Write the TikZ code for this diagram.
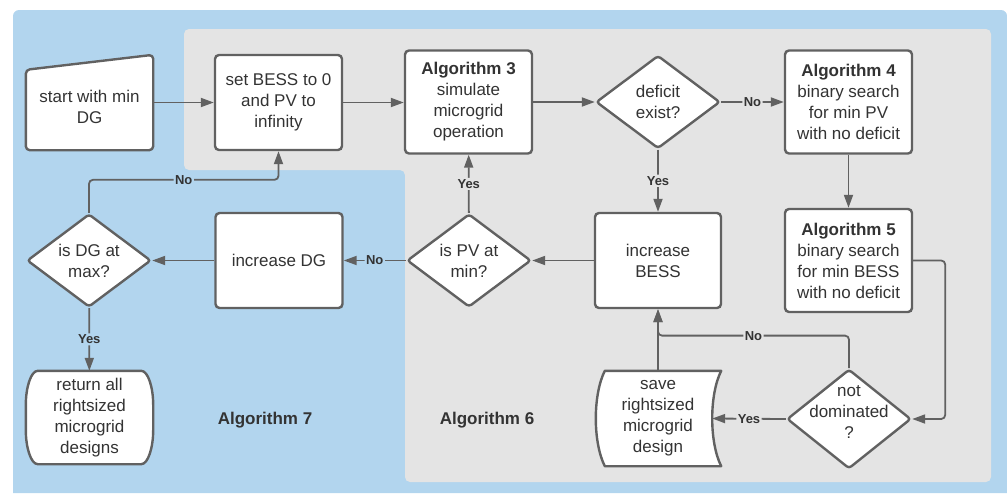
\documentclass[tikz,border=0pt]{standalone}
\usepackage{fontspec}
\setmainfont{Liberation Sans}
\usetikzlibrary{positioning, arrows.meta, shapes.geometric, backgrounds, calc}
\definecolor{cBack}{HTML}{B2D5EE}
\definecolor{cGrey}{HTML}{E4E4E4}
\definecolor{cLine}{HTML}{616161}
\definecolor{cText}{HTML}{333333}

\tikzset{
  procbox/.style={draw=cLine, line width=2.4pt, fill=white, rounded corners=4pt,
    minimum width=127pt, minimum height=95pt, align=center, text=cText,
    font=\fontsize{17}{21}\selectfont},
  tallbox/.style={procbox, minimum height=103pt},
  decision/.style={diamond, draw=cLine, line width=2.4pt, fill=white, rounded corners=3pt,
    minimum width=124pt, minimum height=93pt, inner sep=-12pt, align=center, text=cText,
    font=\fontsize{17}{21}\selectfont},
  plainbox/.style={minimum width=127pt, minimum height=93pt, inner sep=0pt, align=center,
    text=cText, font=\fontsize{17}{21}\selectfont},
  outline/.style={draw=cLine, line width=2.4pt, fill=white, line join=round},
  flow/.style={draw=cLine, line width=1.8pt, rounded corners=4pt,
    -{Triangle[length=13pt, width=9pt]}},
  tag/.style={font=\fontsize{13}{13}\selectfont\bfseries, text=cText, inner sep=1.5pt},
  grouptag/.style={font=\fontsize{17}{21}\selectfont\bfseries, text=cText}
}

\begin{document}
\begin{tikzpicture}[x=1pt, y=-1pt]
  \useasboundingbox (0,0) rectangle (1007,493);
  \begin{scope}[on background layer]
    \fill[cBack] (13,493) [rounded corners=6pt] -- (13,10) -- (1007,10)
      [sharp corners] -- (1007,493) -- cycle;
    \fill[cGrey, rounded corners=5pt] (184,29) -- (991,29) -- (991,482)
      -- (405,482) -- (405,170) -- (184,170) -- cycle;
  \end{scope}

  \node[plainbox, minimum height=86pt] (start) at (89.5,107) {start with min\\DG};
  \node[procbox] (set) at (278.5,102.5) {set BESS to 0\\and PV to\\infinity};
  \node[tallbox] (alg3) at (468.5,102) {\textbf{Algorithm 3}\\simulate\\microgrid\\operation};
  \node[decision] (deficit) at (658,102) {deficit\\exist?};
  \node[tallbox] (alg4) at (848.5,102) {\textbf{Algorithm 4}\\binary search\\for min PV\\with no deficit};
  \node[tallbox] (alg5) at (848.5,260.5) {\textbf{Algorithm 5}\\binary search\\for min BESS\\with no deficit};
  \node[procbox, minimum width=126pt] (bess) at (658,260.5) {increase\\BESS};
  \node[decision] (pvmin) at (469,260.5) {is PV at\\min?};
  \node[procbox] (dg) at (279,260.5) {increase DG};
  \node[decision] (dgmax) at (89,260.5) {is DG at\\max?};
  \node[plainbox] (ret) at (89.5,417.5) {return all\\rightsized\\microgrid\\designs};
  \node[plainbox, minimum width=126pt, minimum height=95pt] (save) at (658,418.5)
    {save\\rightsized\\microgrid\\design};
  \node[decision, text depth=15pt] (notdom) at (849,419) {not\\dominated\\?};
  \node[grouptag] (algseven) at (265,420) {Algorithm 7};
  \node[grouptag] (algsix) at (487,420) {Algorithm 6};

  \begin{scope}[on background layer]
    \draw[outline, rounded corners=4pt] (start.south west) -- ([yshift=-6pt]start.north west)
      -- ([yshift=9pt]start.north east) -- (start.south east) -- cycle;
    \draw[outline] ([xshift=12pt]ret.north west) -- ([xshift=-12pt]ret.north east)
      .. controls ([xshift=-5pt]ret.north east) and ([yshift=-17pt]ret.north east) .. ([yshift=-34pt]ret.north east)
      -- ([yshift=34pt]ret.south east)
      .. controls ([yshift=17pt]ret.south east) and ([xshift=-5pt]ret.south east) .. ([xshift=-12pt]ret.south east)
      -- ([xshift=12pt]ret.south west)
      .. controls ([xshift=5pt]ret.south west) and ([yshift=17pt]ret.south west) .. ([yshift=34pt]ret.south west)
      -- ([yshift=-34pt]ret.north west)
      .. controls ([yshift=-17pt]ret.north west) and ([xshift=5pt]ret.north west) .. ([xshift=12pt]ret.north west)
      -- cycle;
    \draw[outline] ([xshift=10pt]save.north west) -- (save.north east)
      .. controls ([xshift=-12pt,yshift=-24pt]save.north east) and ([xshift=-12pt,yshift=24pt]save.south east) .. (save.south east)
      -- ([xshift=10pt]save.south west)
      .. controls ([xshift=-2pt,yshift=24pt]save.south west) and ([xshift=-2pt,yshift=-24pt]save.north west) .. ([xshift=10pt]save.north west)
      -- cycle;
  \end{scope}

  \draw[flow] (start.east |- set.west) -- (set.west);
  \draw[flow] (set.east) -- (set.east -| alg3.west);
  \draw[flow] (alg3.east |- deficit.west) -- (deficit.west);
  \draw[flow] (deficit) -- node[tag, fill=cGrey] (nofour) {No} (alg4);
  \draw[flow] (alg4) -- (alg5);
  \draw[flow] (deficit) -- node[tag, fill=cGrey] (yesbess) {Yes} (bess);
  \draw[flow] (alg5.east) -- ++(32,0) |- (notdom.east);
  \draw[flow] (notdom.west) -- node[tag, fill=cGrey] (yessave) {Yes} ([xshift=-9pt]save.east);
  \draw[flow] (notdom.north) -- ++(0,-32.5) -| node[tag, fill=cGrey, pos=0.25] (nobess) {No} (bess.south);
  \draw[flow] (save.north) -- (bess.south);
  \draw[flow] (bess) -- (pvmin);
  \draw[flow] (pvmin) -- node[tag, fill=cGrey] (yessim) {Yes} (alg3);
  \draw[flow] (pvmin) -- node[tag, fill=cBack] (nodg) {No} (dg);
  \draw[flow] (dg) -- (dgmax);
  \draw[flow] (dgmax) -- node[tag, fill=cBack] (yesret) {Yes} (ret);
  \draw[flow] (dgmax.north) -- ++(0,-33) -| node[tag, fill=cBack, pos=0.25] (noset) {No} (set.south);
\end{tikzpicture}
\end{document}
